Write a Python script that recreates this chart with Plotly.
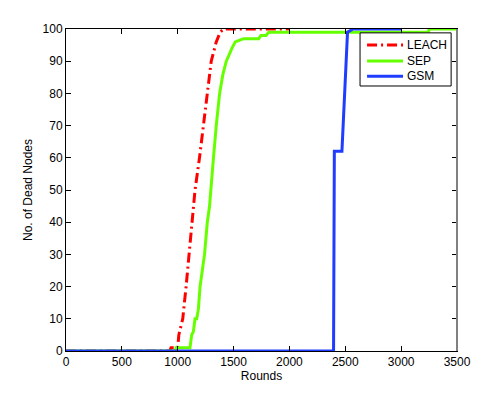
import plotly.graph_objects as go

# Rounds / dead node counts
leach_rounds = [0, 930, 940, 1000, 1010, 1045, 1075, 1100, 1125, 1155, 1195, 1230, 1265, 1300, 1345, 1380, 1410, 2000]
leach_dead = [0, 0, 1, 1, 5, 10, 20, 30, 40, 50, 60, 70, 80, 90, 96, 99, 100, 100]

sep_rounds = [0, 980, 985, 1110, 1125, 1140, 1155, 1170, 1185, 1200, 1240, 1265, 1285, 1305, 1320, 1345,
              1375, 1405, 1435, 1485, 1515, 1590, 1725, 1745, 1790, 1815, 3245, 3250, 3500]
sep_dead = [0, 0, 1, 1, 5, 6, 10, 10, 13, 20, 30, 40, 45, 55, 60, 70,
            80, 86, 90, 94, 96, 97, 97, 98, 98, 99, 99, 100, 100]

gsm_rounds = [0, 2395, 2402, 2470, 2520, 2570, 3000]
gsm_dead = [0, 0, 62, 62, 99, 100, 100]

x_ticks = [0, 500, 1000, 1500, 2000, 2500, 3000, 3500]
y_ticks = [0, 10, 20, 30, 40, 50, 60, 70, 80, 90, 100]

series = [
    ('LEACH', leach_rounds, leach_dead, '#ff0000', '10px,4px,2px,4px'),
    ('SEP', sep_rounds, sep_dead, '#66ff00', 'solid'),
    ('GSM', gsm_rounds, gsm_dead, '#1f3cff', 'solid'),
]

fig = go.Figure()
for name, xs, ys, color, dash in series:
    fig.add_trace(go.Scatter(x=xs, y=ys, mode='lines', name=name, showlegend=False,
                             line=dict(color=color, width=3, dash=dash)))

# compact MATLAB-like legend box (plotly's own legend rows are too tall)
fig.add_shape(type='rect', xref='paper', yref='paper', x0=0.752, x1=0.985, y0=0.823, y1=0.988,
              line=dict(color='black', width=1), fillcolor='white', layer='above')
row_y = [0.950, 0.901, 0.853]
for (name, xs, ys, color, dash), yy in zip(series, row_y):
    fig.add_shape(type='line', xref='paper', yref='paper', x0=0.770, x1=0.862, y0=yy, y1=yy,
                  line=dict(color=color, width=3, dash=dash), layer='above')
    fig.add_annotation(text=name, xref='paper', yref='paper', x=0.868, y=yy,
                       xanchor='left', yanchor='middle', showarrow=False,
                       font=dict(size=12, color='black'))

# right frame edge looks grey in the reference
fig.add_shape(type='line', xref='paper', yref='paper', x0=1, x1=1, y0=0, y1=1,
              line=dict(color='#808080', width=2), layer='above')

axis_style = dict(showgrid=False, zeroline=False, showline=True, linecolor='black', linewidth=1,
                  mirror='allticks', ticks='inside', ticklen=5, tickcolor='black', automargin=False,
                  tickfont=dict(size=12, color='black'))

# page body has an 8px margin, so the figure is shrunk by that much
fig.update_layout(
    width=496, height=387,
    margin=dict(l=58, r=47, t=21, b=44),
    paper_bgcolor='white', plot_bgcolor='white',
    font=dict(family='Liberation Sans, Arial, sans-serif', size=12, color='black'),
    xaxis=dict(range=[0, 3500], tickvals=x_ticks,
               title=dict(text='Rounds', standoff=0, font=dict(size=12)), **axis_style),
    yaxis=dict(range=[0, 100], tickvals=y_ticks,
               title=dict(text='No. of Dead Nodes', standoff=7, font=dict(size=12)), **axis_style),
)

fig.write_html("out.html")
